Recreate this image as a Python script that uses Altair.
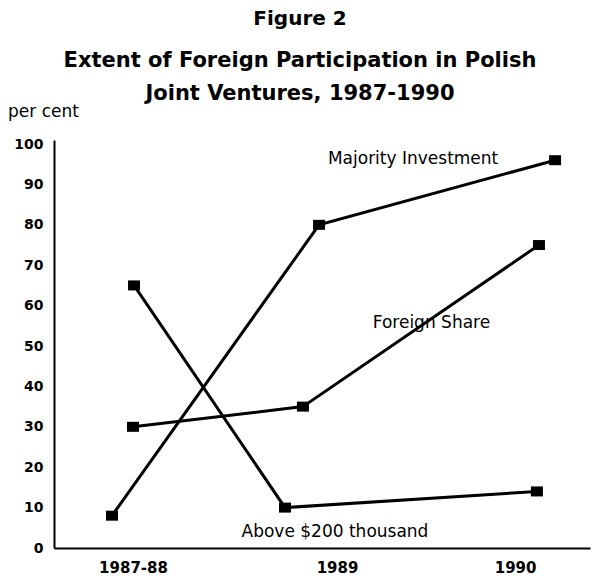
import altair as alt
import pandas as pd

# Reporting periods and where each sits on the horizontal axis
periods = ["1987-88", "1989", "1990"]
period_pos = [0.0, 1.0, 1.873]

# Series: horizontal placement of each observation and its share in per cent
majority_pos = [-0.103, 0.912, 2.069]
majority_pct = [8, 80, 96]

foreign_pos = [0.0, 0.833, 1.990]
foreign_pct = [30, 35, 75]

above_pos = [0.005, 0.745, 1.980]
above_pct = [65, 10, 14]

series_names = ["Majority Investment", "Foreign Share", "Above $200 thousand"]

# Series captions placed in data coordinates
label_pos = [1.373, 1.463, 0.990]
label_pct = [96.3, 55.7, 4.0]

y_ticks = list(range(0, 101, 10))

FONT = "DejaVu Sans"

rows = []
for name, xs, ys in zip(series_names,
                        [majority_pos, foreign_pos, above_pos],
                        [majority_pct, foreign_pct, above_pct]):
    for i, (xv, yv) in enumerate(zip(xs, ys)):
        rows.append({"series": name, "order": i, "pos": xv, "pct": yv})
df = pd.DataFrame(rows)

labels_df = pd.DataFrame({"text": series_names, "pos": label_pos, "pct": label_pct})

# Axis label lookup built from the period lists
label_expr = "'" + periods[-1] + "'"
for i in range(len(periods) - 2, -1, -1):
    cut = (period_pos[i] + period_pos[i + 1]) / 2
    label_expr = f"datum.value < {cut} ? '{periods[i]}' : " + label_expr

x_scale = alt.Scale(domain=[-0.3873, 2.2402], nice=False, zero=False)
# The vertical axis line runs slightly past the 100 mark
y_scale = alt.Scale(domain=[0, 101], nice=False)

x_axis = alt.Axis(
    values=period_pos, labelExpr=label_expr, title=None, grid=False,
    ticks=False, domainColor="black", domainWidth=2, labelFont=FONT,
    labelFontSize=15, labelFontWeight="bold", labelColor="black",
    labelPadding=12, labelFlush=False,
)
y_axis = alt.Axis(
    values=y_ticks, title=None, grid=False, ticks=False, domainColor="black",
    domainWidth=2, labelFont=FONT, labelFontSize=14, labelFontWeight="bold",
    labelColor="black", labelPadding=11,
)

base = alt.Chart(df)

lines = base.mark_line(color="black", strokeWidth=3).encode(
    x=alt.X("pos:Q", scale=x_scale, axis=x_axis),
    y=alt.Y("pct:Q", scale=y_scale, axis=y_axis),
    detail="series:N",
    order="order:Q",
)

markers = base.mark_point(
    shape="M-1.2,-1L1.2,-1L1.2,1L-1.2,1Z", size=100, filled=True,
    color="black", opacity=1,
).encode(x="pos:Q", y="pct:Q")

captions = alt.Chart(labels_df).mark_text(
    font=FONT, fontSize=17, color="black", align="center", baseline="middle"
).encode(x="pos:Q", y="pct:Q", text="text:N")

# Heading lines and the unit caption above the plot
heading = pd.DataFrame({
    "text": ["Figure 2", "Extent of Foreign Participation in Polish",
             "Joint Ventures, 1987-1990"],
    "size": [20, 21, 21],
    "yy": [-115, -73, -40],
})
head_marks = alt.Chart(heading).mark_text(
    font=FONT, fontWeight="bold", color="black", align="center",
    baseline="alphabetic",
).encode(
    x=alt.value(246),
    y=alt.Y("yy:Q", scale=None),
    text="text:N",
    size=alt.Size("size:Q", scale=None, legend=None),
)

unit = alt.Chart(pd.DataFrame({"t": ["per cent"]})).mark_text(
    font=FONT, fontSize=17, color="black", align="left", baseline="alphabetic"
).encode(x=alt.value(-46), y=alt.value(-23), text="t:N")

chart = alt.layer(lines, markers, captions, head_marks, unit).properties(
    width=536, height=408,
    autosize=alt.AutoSizeParams(type="none"),
    padding={"left": 54, "top": 140, "right": 10, "bottom": 28},
    background="white",
).configure_view(stroke=None)

chart.save("out.html", embed_options={"renderer": "svg", "actions": False})
